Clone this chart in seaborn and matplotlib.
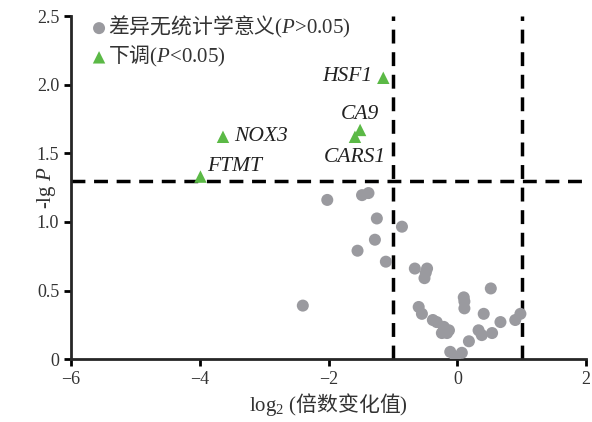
import numpy as np
import pandas as pd
import matplotlib
matplotlib.use('Agg')
import matplotlib.pyplot as plt
import seaborn as sns

# not significant genes (P>0.05)
ns_fc = [-2.02, -1.48, -1.38, -1.25, -0.86, -1.28, -1.55, -1.11, -2.40,
         -0.66, -0.47, -0.49, -0.51, 0.52, 0.10, 0.11, 0.11, -0.60, -0.55,
         0.41, 0.98, 0.90, 0.67, -0.38, -0.32, -0.21, -0.13, -0.24, -0.16,
         0.33, 0.38, 0.54, 0.18, -0.11, 0.07, -0.03]
ns_p = [1.16, 1.195, 1.21, 1.025, 0.965, 0.87, 0.79, 0.71, 0.39,
        0.66, 0.66, 0.63, 0.59, 0.515, 0.45, 0.42, 0.37, 0.38, 0.33,
        0.33, 0.33, 0.285, 0.27, 0.285, 0.27, 0.235, 0.21, 0.19, 0.19,
        0.21, 0.175, 0.19, 0.13, 0.053, 0.046, 0.017]

# down-regulated genes (P<0.05)
down_genes = ['HSF1', 'CA9', 'CARS1', 'NOX3', 'FTMT']
down_fc = [-1.15, -1.51, -1.59, -3.64, -3.99]
down_p = [2.05, 1.67, 1.62, 1.62, 1.33]

x_ticks = [-6, -4, -2, 0, 2]
y_ticks = [0, 0.5, 1.0, 1.5, 2.0, 2.5]
y_ticklabels = ['0', '0.5', '1.0', '1.5', '2.0', '2.5']

sns.set_style('ticks')
plt.rcParams['font.family'] = ['Liberation Serif', 'Noto Sans CJK SC']
# mathtext: rm/it serif, sf used for the CJK characters
plt.rcParams['mathtext.fontset'] = 'custom'
plt.rcParams['mathtext.rm'] = 'Liberation Serif'
plt.rcParams['mathtext.it'] = 'Liberation Serif:italic'
plt.rcParams['mathtext.sf'] = 'Noto Sans CJK SC'
plt.rcParams['axes.unicode_minus'] = True

ns_df = pd.DataFrame({'fc': ns_fc, 'p': ns_p})
down_df = pd.DataFrame({'fc': down_fc, 'p': down_p, 'gene': down_genes})

fig = plt.figure(figsize=(5.92, 4.22), dpi=100)
ax = fig.add_axes([0.12, 0.149, 0.87, 0.813])

sns.scatterplot(data=ns_df, x='fc', y='p', ax=ax, color='#9a9a9f', s=75,
                marker='o', edgecolor='none',
                label=r'$\mathsf{差异无统计学意义}$($P$>0.05)', zorder=3)
sns.scatterplot(data=down_df, x='fc', y='p', ax=ax, color='#5bb946', s=80,
                marker='^', edgecolor='none',
                label=r'$\mathsf{下调}$($P$<0.05)', zorder=3)

offsets = {'HSF1': (-8, 1, 'right'), 'CA9': (0, 11, 'center'),
           'CARS1': (0, -15, 'center'), 'NOX3': (8, 0, 'left'),
           'FTMT': (5, 7, 'left')}
for g, xv, yv in zip(down_genes, down_fc, down_p):
    dx, dy, ha = offsets[g]
    ax.annotate(g, (xv, yv), xytext=(dx, dy), textcoords='offset points',
                ha=ha, va='center', fontsize=15.5, style='italic', color='#222222')

dash = (0, (4, 2.5))
ax.axhline(1.3, color='black', ls=dash, lw=2.5, zorder=2)
ax.axvline(-1, color='black', ls=dash, lw=2.5, zorder=2)
ax.axvline(1, color='black', ls=dash, lw=2.5, zorder=2)

ax.set_xlim(-6, 2)
ax.set_ylim(0, 2.5)
ax.set_xticks(x_ticks)
ax.set_yticks(y_ticks)
ax.set_yticklabels(y_ticklabels)
ax.tick_params(labelsize=13, width=2, length=5, color='black', labelcolor='#333333')
for s in ['left', 'bottom']:
    ax.spines[s].set_linewidth(2)
sns.despine(ax=ax)

ax.set_xlabel(r'log$_2$ ($\mathsf{倍数变化值}$)', fontsize=15, color='#333333',
              labelpad=2)
ax.set_ylabel('-lg $P$', fontsize=15, color='#333333', labelpad=-15)

leg = ax.legend(loc='upper left', bbox_to_anchor=(0.02, 1.03), frameon=False,
                fontsize=15, handletextpad=0.0, handlelength=0.9,
                labelspacing=0.2, borderaxespad=0)
for t in leg.get_texts():
    t.set_color('#333333')

fig.savefig('out.png', dpi=100)
